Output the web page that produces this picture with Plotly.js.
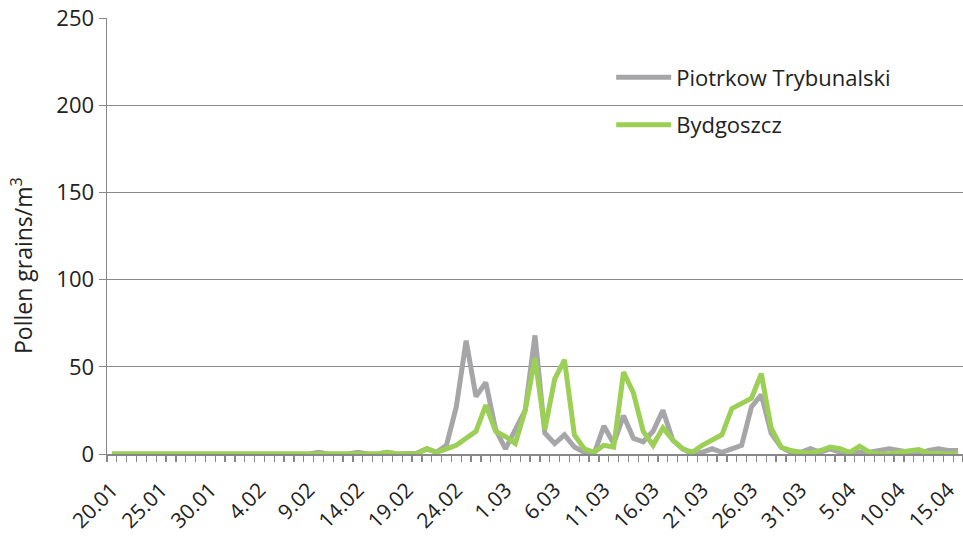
<!DOCTYPE html>
<html>
<head>
<meta charset="utf-8">
<script src="https://cdn.plot.ly/plotly-3.0.1.min.js"></script>
<style>html,body{margin:0;padding:0;background:#fff;}#chart{width:963px;height:538px;}</style>
</head>
<body>
<div id="chart"></div>
<script>
// Daily dates 20.01 - 16.04
const dates = ["20.01","21.01","22.01","23.01","24.01","25.01","26.01","27.01","28.01","29.01","30.01","31.01",
"1.02","2.02","3.02","4.02","5.02","6.02","7.02","8.02","9.02","10.02","11.02","12.02","13.02","14.02","15.02","16.02","17.02","18.02","19.02","20.02","21.02","22.02","23.02","24.02","25.02","26.02","27.02","28.02",
"1.03","2.03","3.03","4.03","5.03","6.03","7.03","8.03","9.03","10.03","11.03","12.03","13.03","14.03","15.03","16.03","17.03","18.03","19.03","20.03","21.03","22.03","23.03","24.03","25.03","26.03","27.03","28.03","29.03","30.03","31.03",
"1.04","2.04","3.04","4.04","5.04","6.04","7.04","8.04","9.04","10.04","11.04","12.04","13.04","14.04","15.04","16.04"];

const tickLabels = ["20.01","25.01","30.01","4.02","9.02","14.02","19.02","24.02","1.03","6.03","11.03","16.03","21.03","26.03","31.03","5.04","10.04","15.04"];

const piotrkow = [0,0,0,0,0,0,0,0,0,0,0,0,0,0,0,0,0,0,0,0,0,1,0,0,0,1,0,0,1,0,0,0.5,3,1,5,27,65,33,41,14,
3,14,25,68,12,6,11,4,1,0,16,6,22,9,7,13,25,8,3,0,1,3,1,3,5,27,34,12,4,1,1,
3,1,3,1,0,1,1,2,3,2,1,0,2,3,2,2];

const bydgoszcz = [0,0,0,0,0,0,0,0,0,0,0,0,0,0,0,0,0,0,0,0,0,0,0,0,0,0,0,0,1,0,0,0,3,1,3,5,9,13,28,13,
10,6,25,55,14,43,54,11,3,1,5,4,47,35,13,5,15,8,3,1,5,8,11,26,29,32,46,15,4,2,1,
0.5,2,4,3,1,4.5,1,0,0,1,2,2.5,0.5,0,0,0];

const yTitle = "Pollen grains/m<sup>3</sup>";

const xIdx = dates.map((d, i) => i);
const tickVals = tickLabels.map(t => dates.indexOf(t));

const traces = [
  {x: xIdx, y: piotrkow, name: "Piotrkow Trybunalski", type: "scatter", mode: "lines",
   line: {color: "#a6a6a9", width: 5}, legendgroup: "a", customdata: dates},
  {x: xIdx, y: bydgoszcz, name: "Bydgoszcz", type: "scatter", mode: "lines",
   line: {color: "#9bcf55", width: 5}, legendgroup: "b", customdata: dates}
];

const layout = {
  width: 963, height: 538,
  margin: {l: 107, r: 0, t: 18, b: 84},
  paper_bgcolor: "#fff", plot_bgcolor: "#fff",
  font: {family: "'Open Sans', sans-serif", color: "#222"},
  showlegend: true,
  legend: {x: 0.589, y: 0.912, xanchor: "left", yanchor: "top",
    font: {size: 22, color: "#222"}, bgcolor: "rgba(0,0,0,0)",
    traceorder: "grouped", tracegroupgap: 16, itemwidth: 55},
  xaxis: {
    range: [-0.5, 86.5], tickmode: "array", tickvals: tickVals, ticktext: tickLabels,
    tickangle: -45, tickfont: {size: 21}, ticks: "", ticklabelstandoff: 14,
    showgrid: false, zeroline: false,
    showline: true, linecolor: "#888", linewidth: 1.5,
    minor: {tickmode: "linear", tick0: 0.5, dtick: 1, ticks: "outside", ticklen: 6, tickcolor: "#888", tickwidth: 1.3, showgrid: false}
  },
  yaxis: {
    range: [0, 250], dtick: 50, tickfont: {size: 22},
    showgrid: true, gridcolor: "#8a8a8a", gridwidth: 1.3, zeroline: false,
    showline: true, linecolor: "#888", linewidth: 1.5,
    ticks: "outside", ticklen: 7, tickcolor: "#888"
  },
  annotations: [{
    text: yTitle, xref: "paper", yref: "paper", x: -0.0993, y: 0.4335,
    xanchor: "center", yanchor: "middle", textangle: -90, showarrow: false,
    font: {size: 23, color: "#222"}
  }]
};

Plotly.newPlot("chart", traces, layout, {displayModeBar: false, staticPlot: true});
</script>
</body>
</html>
